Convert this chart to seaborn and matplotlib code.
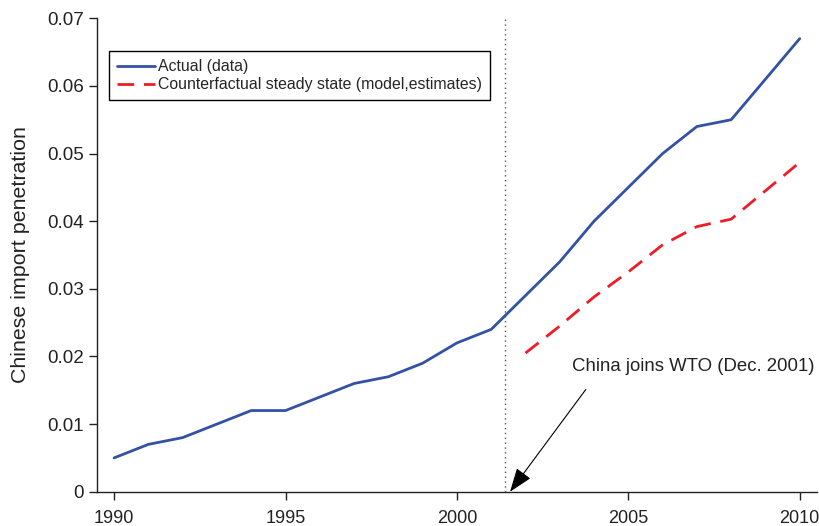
import matplotlib
matplotlib.use("Agg")
import matplotlib.pyplot as plt
import seaborn as sns
import pandas as pd

# Chinese import penetration, actual data
years_actual = [1990, 1991, 1992, 1993, 1994, 1995, 1996, 1997, 1998, 1999, 2000,
                2001, 2002, 2003, 2004, 2005, 2006, 2007, 2008, 2009, 2010]
actual = [0.005, 0.007, 0.008, 0.010, 0.012, 0.012, 0.014, 0.016, 0.017, 0.019, 0.022,
          0.024, 0.029, 0.034, 0.040, 0.045, 0.050, 0.054, 0.055, 0.061, 0.067]

# Counterfactual steady state (model estimates)
years_cf = [2002, 2003, 2004, 2005, 2006, 2007, 2008, 2009, 2010]
counterfactual = [0.0205, 0.0245, 0.0288, 0.0325, 0.0365, 0.0392, 0.0403, 0.0445, 0.0487]

wto_year = 2001.4
xticks = [1990, 1995, 2000, 2005, 2010]
yticks = [0, 0.01, 0.02, 0.03, 0.04, 0.05, 0.06, 0.07]
ytick_labels = ["0", "0.01", "0.02", "0.03", "0.04", "0.05", "0.06", "0.07"]

label_actual = "Actual (data)"
label_cf = "Counterfactual steady state (model,estimates)"

sns.set_style("ticks")
plt.rcParams["font.family"] = ["Liberation Sans", "DejaVu Sans"]

df_a = pd.DataFrame({"year": years_actual, "value": actual})
df_c = pd.DataFrame({"year": years_cf, "value": counterfactual})

fig = plt.figure(figsize=(8.19, 5.26), dpi=100)
ax = fig.add_axes([0.1184, 0.0652, 0.879, 0.9])

sns.lineplot(data=df_a, x="year", y="value", ax=ax, color="#3452a4", lw=2.0,
             label=label_actual)
sns.lineplot(data=df_c, x="year", y="value", ax=ax, color="#ee1c25", lw=2.0,
             dashes=False, label=label_cf)
ax.lines[-1].set_linestyle((0, (6, 3.5)))

ax.axvline(wto_year, color="#555555", lw=1.0, ls=(0, (1, 2.5)))

ax.annotate("China joins WTO (Dec. 2001)", xy=(wto_year + 0.15, 0),
            xytext=(2006.9, 0.0185), ha="center", va="center", fontsize=13.4,
            color="#222222",
            arrowprops=dict(arrowstyle="-|>,head_length=1.1,head_width=0.4",
                            color="black", lw=0.8, shrinkA=10, shrinkB=0,
                            relpos=(0.1, 0.0)))

ax.set_xlim(1989.5, 2010.5)
ax.set_ylim(0, 0.07)
ax.set_xticks(xticks)
ax.set_xticklabels([str(t) for t in xticks])
ax.set_yticks(yticks)
ax.set_yticklabels(ytick_labels)
ax.tick_params(axis="y", labelsize=13.6, length=6, width=1.0, colors="#222222",
               direction="out")
ax.tick_params(axis="x", labelsize=13.0, length=6, width=1.0, colors="#222222",
               direction="out", pad=7)
ax.set_xlabel("")
ax.set_ylabel("Chinese import penetration", fontsize=15.4, color="#222222", labelpad=12)
for side in ["top", "right"]:
    ax.spines[side].set_visible(False)
for side in ["left", "bottom"]:
    ax.spines[side].set_linewidth(1.0)
    ax.spines[side].set_color("#222222")

leg = ax.legend(loc="upper left", bbox_to_anchor=(0.006, 0.947), fontsize=11.4,
                frameon=True, fancybox=False, edgecolor="black", handlelength=2.4,
                handletextpad=0.2, borderpad=0.5, labelspacing=0.2, framealpha=1)
leg.get_frame().set_linewidth(1.0)

fig.savefig("out.png", dpi=100)
